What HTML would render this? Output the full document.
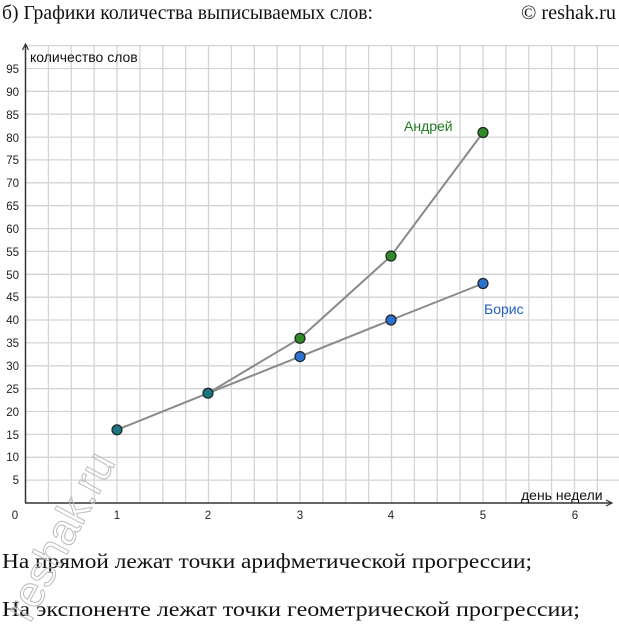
<!DOCTYPE html>
<html><head><meta charset="utf-8"><style>
body{margin:0;width:619px;height:624px;background:#fff;overflow:hidden}
svg{position:absolute;left:0;top:0}
</style></head><body>
<svg width="619" height="624" xmlns="http://www.w3.org/2000/svg">
<path stroke="#d4d4d4" stroke-width="1.3" fill="none" d="
M48.4 45V503M71.3 45V503M94.1 45V503M117 45V503M139.9 45V503M162.8 45V503M185.6 45V503M208.5 45V503M231.4 45V503M254.3 45V503M277.1 45V503M300 45V503M322.9 45V503M345.8 45V503M368.6 45V503M391.5 45V503M414.4 45V503M437.3 45V503M460.1 45V503M483 45V503M505.9 45V503M528.8 45V503M551.6 45V503M574.5 45V503M597.4 45V503
M25 480.1H619M25 457.3H619M25 434.4H619M25 411.5H619M25 388.7H619M25 365.8H619M25 342.9H619M25 320H619M25 297.2H619M25 274.3H619M25 251.4H619M25 228.6H619M25 205.7H619M25 182.8H619M25 159.9H619M25 137.1H619M25 114.2H619M25 91.3H619M25 68.5H619M25 45.6H619"/>
<line x1="25.5" y1="503" x2="25.5" y2="44" stroke="#333" stroke-width="1.5"/>
<path d="M22.5 50 L25.5 44 L28.5 50" fill="none" stroke="#333" stroke-width="1.2"/>
<line x1="25" y1="503" x2="612" y2="503" stroke="#333" stroke-width="1.5"/>
<path d="M606 500 L612 503 L606 506" fill="none" stroke="#333" stroke-width="1.2"/>
<g font-family="Liberation Sans, sans-serif" font-size="11.5" fill="#222" text-anchor="end">
<text x="19" y="73">95</text><text x="19" y="96">90</text><text x="19" y="119">85</text><text x="19" y="142">80</text><text x="19" y="164">75</text><text x="19" y="187">70</text><text x="19" y="210">65</text><text x="19" y="233">60</text><text x="19" y="256">55</text><text x="19" y="279">50</text><text x="19" y="301">45</text><text x="19" y="324">40</text><text x="19" y="347">35</text><text x="19" y="370">30</text><text x="19" y="393">25</text><text x="19" y="416">20</text><text x="19" y="439">15</text><text x="19" y="461">10</text><text x="19" y="484">5</text>
</g>
<g font-family="Liberation Sans, sans-serif" font-size="11.5" fill="#222" text-anchor="middle">
<text x="15" y="519">0</text><text x="117" y="519">1</text><text x="208" y="519">2</text><text x="300" y="519">3</text><text x="391" y="519">4</text><text x="483" y="519">5</text><text x="575" y="519">6</text>
</g>
<text x="30" y="62" font-family="Liberation Sans, 'DejaVu Sans', sans-serif" font-size="14" fill="#111">количество слов</text>
<text x="521" y="500" font-family="Liberation Sans, 'DejaVu Sans', sans-serif" font-size="14" fill="#111">день недели</text>
<g fill="none" stroke="#8a8a8a" stroke-width="2">
<polyline points="117,429.8 208,393.2 300,338.3 391,256 483,132.5"/>
<polyline points="208,393.2 300,356.6 391,320 483,283.5"/>
</g>
<g stroke="#222" stroke-width="1.2">
<circle cx="117" cy="429.8" r="5" fill="#1a7580"/>
<circle cx="208" cy="393.2" r="5" fill="#1a7580"/>
<circle cx="300" cy="338.3" r="5" fill="#2f8a2a"/>
<circle cx="391" cy="256" r="5" fill="#2f8a2a"/>
<circle cx="483" cy="132.5" r="5" fill="#2f8a2a"/>
<circle cx="300" cy="356.6" r="5" fill="#2a72d0"/>
<circle cx="391" cy="320" r="5" fill="#2a72d0"/>
<circle cx="483" cy="283.5" r="5" fill="#2a72d0"/>
</g>
<text x="404" y="131" font-family="Liberation Sans, 'DejaVu Sans', sans-serif" font-size="14" fill="#1f7a1f">Андрей</text>
<text x="484" y="314" font-family="Liberation Sans, 'DejaVu Sans', sans-serif" font-size="14" fill="#1f5fc0">Борис</text>
<g font-family="Liberation Serif, 'DejaVu Serif', serif" fill="#111">
<text x="2" y="19" font-size="20" textLength="371" lengthAdjust="spacingAndGlyphs">б) Графики количества выписываемых слов:</text>
<text x="521" y="19" font-size="20" textLength="95" lengthAdjust="spacingAndGlyphs">© reshak.ru</text>
<text x="2" y="568" font-size="21" textLength="530" lengthAdjust="spacingAndGlyphs">На прямой лежат точки арифметической прогрессии;</text>
<text x="2" y="616" font-size="21" textLength="578" lengthAdjust="spacingAndGlyphs">На экспоненте лежат точки геометрической прогрессии;</text>
</g>
<text x="0" y="0" font-family="Liberation Sans, sans-serif" font-size="44" fill="none" stroke="#bbb" stroke-width="1" transform="translate(30,624) rotate(-62)">reshak.ru</text>
</svg>
</body></html>
